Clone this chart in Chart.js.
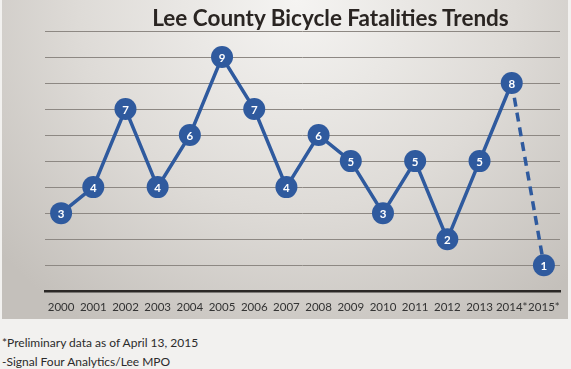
<!DOCTYPE html>
<html>
<head>
<meta charset="utf-8">
<script src="https://cdn.jsdelivr.net/npm/chart.js@4.4.1/dist/chart.umd.min.js"></script>
<style>
  body { margin: 0; background: #f2f1ef; font-family: Lato, "Open Sans", sans-serif; }
  #wrap { position: relative; width: 571px; height: 369px; overflow: hidden; }
  #panel {
    position: absolute; left: 2px; top: 0; width: 566px; height: 319px;
    background: radial-gradient(ellipse 70% 120% at 52% 0%, #f5f4f2 0%, #dedbd7 55%, #c4c0bb 100%);
  }
  #chart { position: absolute; left: 0; top: 0; }
  #title {
    position: absolute; left: 0; width: 571px; top: 4px; margin: 0;
    padding-left: 90px; box-sizing: border-box; text-align: center;
    font: bold 22.5px Lato, sans-serif; color: #2a2522;
  }
  .note { position: absolute; left: 2px; font: 12px Lato, sans-serif; color: #2b2b2b; }
</style>
</head>
<body>
<div id="wrap">
  <div id="panel"></div>
  <canvas id="chart" width="571" height="326"></canvas>
  <h1 id="title">Lee County Bicycle Fatalities Trends</h1>
  <div class="note" style="top:335px">*Preliminary data as of April 13, 2015</div>
  <div class="note" style="top:354px">-Signal Four Analytics/Lee MPO</div>
</div>
<script>
const years = ['2000', '2001', '2002', '2003', '2004', '2005', '2006', '2007',
               '2008', '2009', '2010', '2011', '2012', '2013', '2014*', '2015*'];
const fatalities = [3, 4, 7, 4, 6, 9, 7, 4, 6, 5, 3, 5, 2, 5, 8, 1];
const yTicks = { min: 0, max: 10, step: 1 };

const blue = '#2f5a9e';

// writes the value inside each marker
const pointLabels = {
    id: 'pointLabels',
    afterDatasetsDraw(chart) {
        const ctx = chart.ctx;
        const meta = chart.getDatasetMeta(0);
        ctx.save();
        ctx.fillStyle = '#ffffff';
        ctx.font = 'bold 11.5px Lato, sans-serif';
        ctx.textAlign = 'center';
        ctx.textBaseline = 'middle';
        meta.data.forEach((pt, i) => {
            ctx.fillText(fatalities[i], pt.x, pt.y + 1);
        });
        ctx.restore();
    }
};

new Chart(document.getElementById('chart').getContext('2d'), {
    type: 'line',
    data: {
        labels: years,
        datasets: [{
            data: fatalities,
            borderColor: blue,
            borderWidth: 3.5,
            backgroundColor: blue,
            pointRadius: 11,
            pointHoverRadius: 11,
            pointBorderWidth: 0,
            tension: 0,
            segment: {
                borderDash: ctx => ctx.p1DataIndex === years.length - 1 ? [9, 6] : undefined
            }
        }]
    },
    options: {
        responsive: false,
        animation: false,
        layout: { padding: { left: 45, right: 9, top: 31, bottom: 3 } },
        plugins: { legend: { display: false }, tooltip: { enabled: false } },
        scales: {
            x: {
                offset: true,
                grid: { display: false, drawTicks: false },
                border: { color: '#2b2826', width: 2.5 },
                ticks: { color: '#333', font: { family: 'Lato', size: 11.5 }, padding: 9, maxRotation: 0, autoSkip: false }
            },
            y: {
                min: yTicks.min,
                max: yTicks.max,
                ticks: { display: false, stepSize: yTicks.step },
                grid: { color: '#8d8883', lineWidth: 1, drawTicks: false },
                border: { display: false }
            }
        }
    },
    plugins: [pointLabels]
});
</script>
</body>
</html>
